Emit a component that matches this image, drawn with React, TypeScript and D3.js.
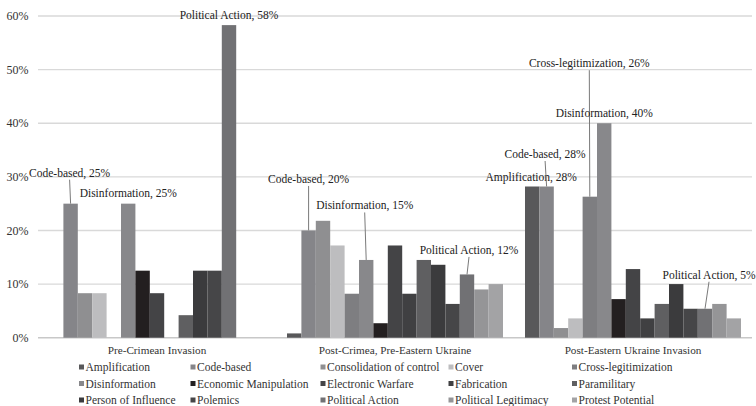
import React from "react";
import * as d3 from "d3";

// Phases of the campaign (x categories)
const categories = [
  "Pre-Crimean Invasion",
  "Post-Crimea, Pre-Eastern Ukraine",
  "Post-Eastern Ukraine Invasion",
];

// Tactic series, in legend order
const seriesNames = [
  "Amplification",
  "Code-based",
  "Consolidation of control",
  "Cover",
  "Cross-legitimization",
  "Disinformation",
  "Economic Manipulation",
  "Electronic Warfare",
  "Fabrication",
  "Paramilitary",
  "Person of Influence",
  "Polemics",
  "Political Action",
  "Political Legitimacy",
  "Protest Potential",
];

// Share of activity (%) per tactic, one array per phase
const preCrimea = [0, 25, 8.3, 8.3, 0, 25, 12.5, 8.3, 0, 4.2, 12.5, 12.5, 58.3, 0, 0];
const postCrimea = [0.8, 20, 21.8, 17.2, 8.2, 14.5, 2.7, 17.2, 8.2, 14.5, 13.6, 6.3, 11.8, 9.0, 10.0];
const postEastern = [28.2, 28.2, 1.8, 3.6, 26.3, 40, 7.2, 12.8, 3.6, 6.3, 10.0, 5.4, 5.4, 6.3, 3.6];
const phaseValues = [preCrimea, postCrimea, postEastern];

const yTicks = [0, 10, 20, 30, 40, 50, 60];

// Highlighted bars: [phase index, series name]
const callouts: [number, string][] = [
  [0, "Code-based"],
  [0, "Disinformation"],
  [0, "Political Action"],
  [1, "Code-based"],
  [1, "Disinformation"],
  [1, "Political Action"],
  [2, "Amplification"],
  [2, "Code-based"],
  [2, "Cross-legitimization"],
  [2, "Disinformation"],
  [2, "Political Action"],
];

// Label placement relative to the bar top (dx, dy of text baseline)
const calloutOffsets: [number, number][] = [
  [-1, -27],
  [0, -6.5],
  [0, -6],
  [0, -47.5],
  [-1.5, -50.5],
  [2, -20.5],
  [-1, -6],
  [-1.5, -28.5],
  [-0.5, -129.5],
  [0, -6],
  [4, -30],
];

const colors = [
  "#58585a",
  "#858589",
  "#8f8f91",
  "#bdbdbf",
  "#7e7e81",
  "#88888b",
  "#231f20",
  "#444446",
  "#404042",
  "#5f5f61",
  "#3b3b3d",
  "#464648",
  "#717174",
  "#959597",
  "#a3a3a5",
];

const legendCols = [79, 190.5, 320.5, 448.5, 572];
const legendRows = [367, 383.5, 400];

const W = 756;
const H = 406;
const FONT = '"Liberation Serif", "DejaVu Serif", serif';

export default function App() {
  const x0 = d3
    .scaleBand<string>()
    .domain(categories)
    .range([38, 752])
    .paddingInner(0.0924)
    .paddingOuter(0.0462);
  const x1 = d3
    .scaleBand<string>()
    .domain(seriesNames)
    .range([0, x0.bandwidth()])
    .padding(0);
  const y = d3.scaleLinear().domain([0, 60]).range([337.7, 16]);
  const fmt = (v: number) => `${Math.round(v)}%`;
  const txt = (size: number, extra: React.CSSProperties = {}) => ({
    fontFamily: FONT,
    fontSize: `${size}px`,
    ...extra,
  });

  return (
    <svg
      width={W}
      height={H}
      style={{ position: "absolute", left: 0, top: 0, background: "#fff" }}
    >
      {/* gridlines and y labels */}
      {yTicks.map((t) => (
        <g key={t}>
          <line
            x1={38}
            x2={752}
            y1={y(t)}
            y2={y(t)}
            stroke={t === 0 ? "#c8c8c8" : "#d9d9d9"}
            strokeWidth={1.4}
          />
          <text
            x={28.5}
            y={y(t)}
            dy="0.35em"
            textAnchor="end"
            style={txt(12)}
            fill="#333"
          >
            {`${t}%`}
          </text>
        </g>
      ))}

      {/* bars */}
      {categories.map((c, ci) => (
        <g key={c} transform={`translate(${x0(c)},0)`}>
          {seriesNames.map((s, si) => {
            const v = phaseValues[ci][si];
            if (v <= 0) return null;
            return (
              <rect
                key={s}
                x={x1(s)}
                y={y(v)}
                width={x1.bandwidth()}
                height={y(0) - y(v)}
                fill={colors[si]}
              />
            );
          })}
        </g>
      ))}

      {/* category labels */}
      {categories.map((c) => (
        <text
          key={c}
          x={(x0(c) as number) + x0.bandwidth() / 2}
          y={354}
          textAnchor="middle"
          style={txt(11.2)}
          fill="#333"
        >
          {c}
        </text>
      ))}

      {/* callouts */}
      {callouts.map(([ci, s], i) => {
        const si = seriesNames.indexOf(s);
        const v = phaseValues[ci][si];
        const bx = (x0(categories[ci]) as number) + (x1(s) as number) + x1.bandwidth() / 2;
        const by = y(v);
        const [dx, dy] = calloutOffsets[i];
        const lx = bx + dx;
        const ly = by + dy;
        return (
          <g key={i}>
            {dy < -15 && (
              <line x1={lx} y1={ly + 3} x2={bx} y2={by} stroke="#7a7a7a" strokeWidth={1} />
            )}
            <text x={lx} y={ly} textAnchor="middle" style={txt(11.5)} fill="#222">
              {`${s}, ${fmt(v)}`}
            </text>
          </g>
        );
      })}

      {/* legend */}
      {seriesNames.map((s, i) => {
        const col = i % 5;
        const row = Math.floor(i / 5);
        const lx = legendCols[col];
        const ly = legendRows[row];
        return (
          <g key={s}>
            <rect x={lx} y={ly - 2.5} width={5} height={5} fill={colors[i]} />
            <text
              x={lx + 6.5}
              y={ly}
              dy="0.35em"
              style={txt(11.5)}
              fill="#333"
            >
              {s}
            </text>
          </g>
        );
      })}
    </svg>
  );
}
